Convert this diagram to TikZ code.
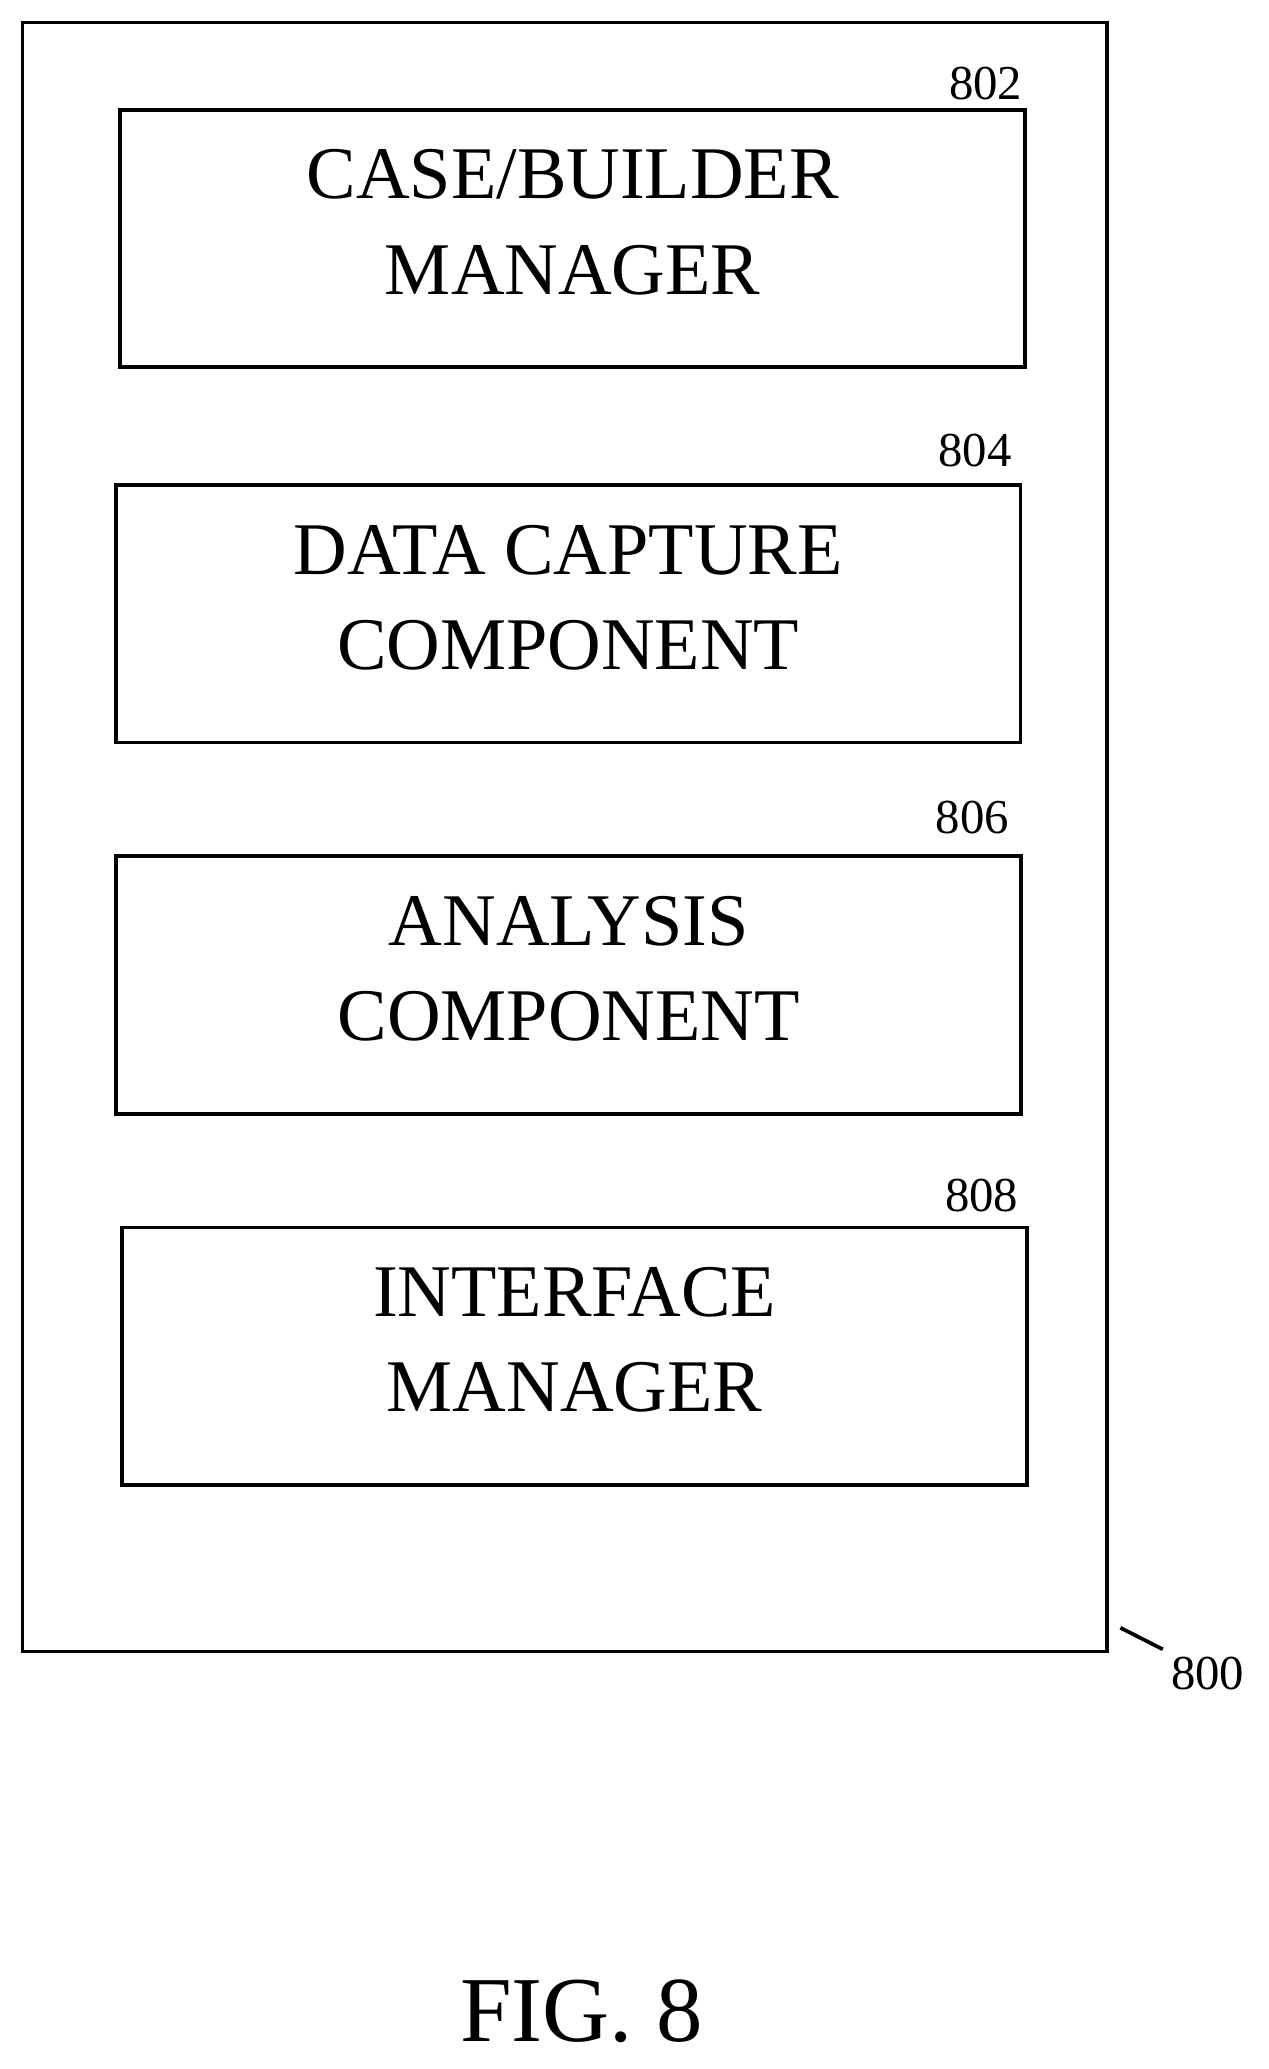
\documentclass[tikz,border=0pt]{standalone}
\usepackage{fontspec}
\setmainfont{Liberation Serif}
\usetikzlibrary{positioning}

\tikzset{
  blk/.style={draw, line width=1.6pt, minimum width=13.7cm, minimum height=3.9cm,
    text depth=0.5cm, align=center, font=\fontsize{32}{41}\selectfont},
  lbl/.style={font=\fontsize{21}{24}\selectfont}
}

\begin{document}
\begin{tikzpicture}[x=0.02cm,y=-0.02cm]
    \useasboundingbox (0,0) rectangle (960,1566);

    % outer frame
    \node[draw, line width=1.6pt, minimum width=16.42cm, minimum height=24.66cm] (frame) at (427.5,633.5) {};

    % components
    \node[blk] (builder) at (433.5,180.5) {CASE/BUILDER\\MANAGER};
    \node[blk] (capture) at (430,464.5) {DATA CAPTURE\\COMPONENT};
    \node[blk] (analysis) at (430.5,745.5) {ANALYSIS\\COMPONENT};
    \node[blk] (iface) at (435,1026.5) {INTERFACE\\MANAGER};

    % reference numerals
    \node[lbl] (n802) at (746,63) {802};
    \node[lbl] (n804) at (738,341) {804};
    \node[lbl] (n806) at (736,619) {806};
    \node[lbl] (n808) at (743,905) {808};
    \node[lbl] (n800) at (914,1267) {800};
    \coordinate (tick) at (848,1232);
    \draw[line width=1.6pt] (tick) -- (n800.north west);

    \node[font=\fontsize{40}{44}\selectfont] (fig) at (440,1522) {FIG. 8};
\end{tikzpicture}
\end{document}
